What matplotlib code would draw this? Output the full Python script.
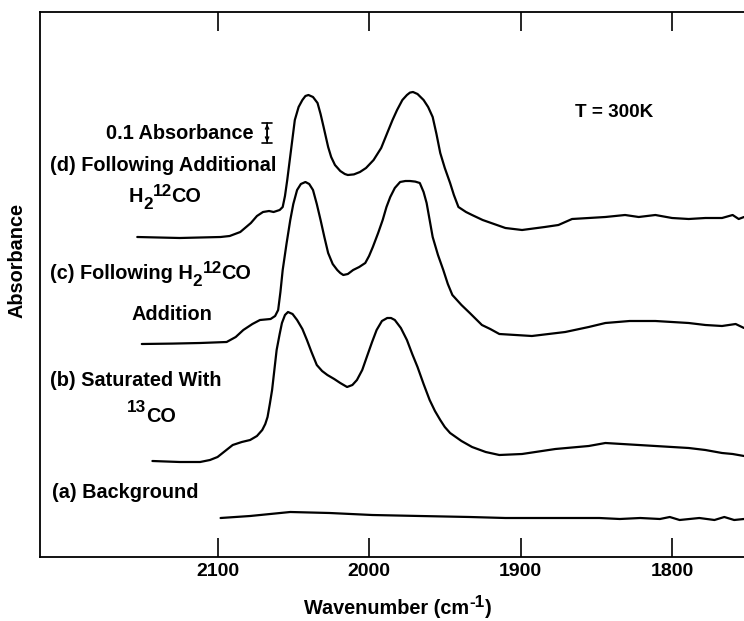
import matplotlib
matplotlib.use("Agg")
import matplotlib.pyplot as plt
import matplotlib.transforms as mtransforms

plt.rcParams['font.family'] = ['Liberation Sans', 'DejaVu Sans']
plt.rcParams['font.weight'] = 'bold'

# ---------------- data (wavenumber cm^-1, absorbance above each baseline) -------------
wn_a = [2098, 2078.5, 2052, 2026, 1998, 1966.5, 1933.5, 1910, 1874, 1848, 1834.5, 1821,
        1808, 1801.5, 1795, 1782, 1772, 1765.5, 1759, 1752.5]
abs_a = [0.0, 0.01, 0.03, 0.025, 0.015, 0.01, 0.005, 0.0, 0.0, 0.0, -0.005, 0.0,
         -0.005, 0.005, -0.01, 0.0, -0.01, 0.005, -0.01, -0.005]

wn_b = [2143, 2125, 2111.5, 2105, 2100, 2095, 2090, 2084, 2078.5, 2074, 2070.5, 2068.5,
        2067, 2065.5, 2064, 2062.5, 2061, 2059, 2057.5, 2055.5, 2053.5, 2050.5, 2047.5,
        2044, 2041, 2038, 2034.5, 2031, 2027.5, 2023, 2019, 2014.5, 2011, 2008, 2004.5,
        2001.5, 1998, 1995, 1991.5, 1988, 1985.5, 1983, 1979, 1975, 1971.5, 1968, 1964,
        1960, 1956.5, 1953, 1950, 1946.5, 1939, 1932, 1923, 1914, 1899, 1877, 1855, 1844,
        1833, 1822, 1811, 1800, 1789, 1778, 1767, 1760, 1752.5]
abs_b = [0.005, 0.0, 0.0, 0.01, 0.025, 0.055, 0.085, 0.1, 0.11, 0.13, 0.16, 0.19,
         0.225, 0.29, 0.36, 0.46, 0.56, 0.64, 0.695, 0.735, 0.75, 0.74, 0.71,
         0.665, 0.61, 0.55, 0.485, 0.455, 0.435, 0.415, 0.395, 0.375, 0.385, 0.41, 0.46,
         0.525, 0.6, 0.66, 0.705, 0.72, 0.72, 0.71, 0.67, 0.61, 0.54, 0.475, 0.39,
         0.31, 0.255, 0.21, 0.175, 0.145, 0.105, 0.075, 0.05, 0.035, 0.04, 0.065, 0.08, 0.095,
         0.09, 0.085, 0.08, 0.075, 0.07, 0.06, 0.045, 0.04, 0.03]

wn_c = [2150, 2130, 2111.5, 2094, 2088, 2083, 2077, 2072, 2065, 2062, 2060, 2058.5, 2057,
        2054.5, 2052, 2050, 2047.5, 2045, 2042, 2039.5, 2037, 2034.5, 2032, 2029.5, 2027,
        2024, 2021, 2019, 2017, 2014, 2010.5, 2006.5, 2002.5, 2000, 1997.5, 1994, 1991,
        1988.5, 1986, 1983, 1979.5, 1976, 1973, 1969.5, 1966.5, 1964, 1962, 1960, 1958,
        1954.5, 1951, 1948, 1945, 1939, 1933.5, 1925.5, 1920, 1914, 1892.5, 1870.5, 1855,
        1844, 1828, 1811, 1800, 1789, 1778, 1767, 1758, 1752.5]
abs_c = [0.0, 0.002, 0.005, 0.01, 0.035, 0.07, 0.1, 0.12, 0.125, 0.14, 0.17, 0.26, 0.37,
         0.5, 0.62, 0.7, 0.77, 0.8, 0.81, 0.8, 0.77, 0.7, 0.62, 0.535, 0.455,
         0.4, 0.37, 0.355, 0.345, 0.35, 0.37, 0.385, 0.405, 0.44, 0.485, 0.555, 0.62,
         0.685, 0.735, 0.78, 0.81, 0.815, 0.815, 0.812, 0.805, 0.76, 0.705, 0.62, 0.535,
         0.445, 0.37, 0.3, 0.245, 0.195, 0.155, 0.095, 0.075, 0.05, 0.04, 0.06, 0.085,
         0.105, 0.115, 0.115, 0.11, 0.105, 0.095, 0.09, 0.10, 0.08]

wn_d = [2153, 2125, 2098, 2092, 2085, 2078, 2074, 2070, 2066, 2063, 2059, 2057, 2055.5,
        2054, 2051.5, 2049, 2046.5, 2044, 2042, 2040, 2037, 2034, 2032, 2030, 2027, 2025,
        2022.5, 2019, 2016, 2014, 2010, 2006, 2002, 1997, 1992, 1988, 1984.5, 1981.5, 1978,
        1975, 1973, 1971, 1968, 1964, 1961, 1958, 1955.5, 1953, 1950, 1946.5, 1944, 1941,
        1936, 1932, 1925, 1910, 1899, 1884, 1875, 1866, 1855, 1844, 1831, 1822, 1811, 1800,
        1789, 1778, 1767, 1760, 1756, 1752.5]
abs_d = [0.005, 0.0, 0.005, 0.01, 0.03, 0.075, 0.11, 0.13, 0.135, 0.13, 0.14, 0.155, 0.21,
         0.29, 0.44, 0.59, 0.655, 0.69, 0.71, 0.715, 0.705, 0.675, 0.62, 0.555, 0.455, 0.405,
         0.365, 0.335, 0.32, 0.315, 0.318, 0.33, 0.35, 0.39, 0.45, 0.525, 0.59, 0.64, 0.69,
         0.715, 0.727, 0.73, 0.72, 0.69, 0.655, 0.605, 0.52, 0.425, 0.35, 0.275, 0.215, 0.155,
         0.13, 0.115, 0.09, 0.05, 0.04, 0.055, 0.065, 0.095, 0.10, 0.105, 0.115, 0.105,
         0.115, 0.10, 0.095, 0.10, 0.10, 0.115, 0.095, 0.105]

offsets = {'a': 0.195, 'b': 0.475, 'c': 1.065, 'd': 1.595}
xticks = [2100, 2000, 1900, 1800]
xtick_labels = ['2100', '2000', '1900', '1800']

# ---------------- figure --------------------------------------------------------------
W, H = 744, 621
fig = plt.figure(figsize=(W / 100, H / 100), dpi=100)
ax = fig.add_axes([40 / W, 1 - 557 / H, 1 - 40 / W, (557 - 12) / H])

lw = 1.6
for wn, ab, key in [(wn_a, abs_a, 'a'), (wn_b, abs_b, 'b'), (wn_c, abs_c, 'c'), (wn_d, abs_d, 'd')]:
    ax.plot(wn, [v + offsets[key] for v in ab], color='black', lw=lw,
            solid_joinstyle='round', solid_capstyle='round')

ax.set_xlim(2217.2, 1752.5)
ax.set_ylim(0, 2.725)
ax.set_yticks([])
ax.set_xticks(xticks)
ax.set_xticklabels([])
ax.tick_params(axis='x', direction='in', length=13.5, width=1.2, top=True, bottom=True,
               color='black')
for s in ['left', 'top', 'bottom']:
    ax.spines[s].set_linewidth(1.3)
ax.spines['right'].set_visible(False)


def fx(px):
    return px / W


def fy(py):
    return 1 - py / H


FS = 14.3
SFS = 12.3
renderer = fig.canvas.get_renderer()


def rich_text(x_px, y_px, pieces, ha='left'):
    """pieces: (string, fontsize, dy_px upward)"""
    widths = []
    for s, size, dy in pieces:
        t = fig.text(0, 0, s, fontsize=size, fontweight='bold')
        widths.append(t.get_window_extent(renderer).width)
        t.remove()
    total = sum(widths)
    x0 = x_px - (total / 2 if ha == 'center' else 0)
    for (s, size, dy), w in zip(pieces, widths):
        fig.text(fx(x0), fy(y_px - dy), s, fontsize=size, fontweight='bold',
                 ha='left', va='baseline')
        x0 += w


blend = mtransforms.blended_transform_factory(ax.transData, fig.transFigure)
for t, lab in zip(xticks, xtick_labels):
    ax.text(t, fy(576), lab, transform=blend, ha='center', va='baseline',
            fontsize=14, fontweight='bold')

rich_text(398, 614, [('Wavenumber (cm', FS, 0), ('-1', SFS, 7), (')', FS, 0)], ha='center')
fig.text(fx(17.5), fy(260), 'Absorbance', rotation=90, ha='center', va='center',
         fontsize=FS, fontweight='bold')

# annotations
fig.text(fx(254), fy(139), '0.1 Absorbance', ha='right', va='baseline', fontsize=FS)
fig.text(fx(50), fy(171), '(d) Following Additional', ha='left', va='baseline', fontsize=FS)
rich_text(165, 202, [('H', FS, 0), ('2', SFS, -7), ('12', SFS, 6), ('CO', FS, 0)], ha='center')
rich_text(50, 279, [('(c) Following H', FS, 0), ('2', SFS, -7), ('12', SFS, 6), ('CO', FS, 0)])
fig.text(fx(171.5), fy(320), 'Addition', ha='center', va='baseline', fontsize=FS)
fig.text(fx(50), fy(386), '(b) Saturated With', ha='left', va='baseline', fontsize=FS)
rich_text(127, 422, [('13', SFS, 10), ('CO', FS, 0)])
fig.text(fx(52), fy(498), '(a) Background', ha='left', va='baseline', fontsize=FS)
fig.text(fx(575), fy(117), 'T = 300K', ha='left', va='baseline', fontsize=13.6)

# 0.1 absorbance scale bar
bar_x = 2067.3
bar_y0, bar_y1 = 2.07, 2.17
ax.annotate('', xy=(bar_x, bar_y1), xytext=(bar_x, bar_y0),
            arrowprops=dict(arrowstyle='|-|, widthA=0.35, widthB=0.35', lw=1.2, color='black',
                            shrinkA=0, shrinkB=0))
ax.annotate('', xy=(bar_x, bar_y1 - 0.005), xytext=(bar_x, bar_y0 + 0.005),
            arrowprops=dict(arrowstyle='<->, head_length=0.25, head_width=0.12', lw=1.0,
                            color='black', shrinkA=0, shrinkB=0))

fig.savefig('out.png', dpi=100)
